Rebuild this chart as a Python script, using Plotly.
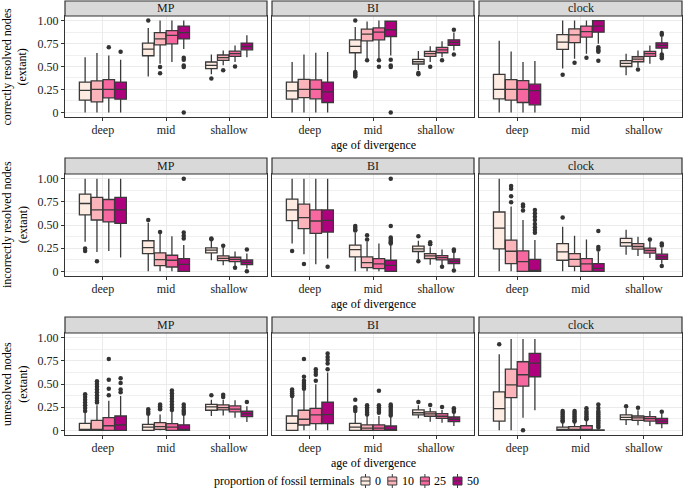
import plotly.graph_objects as go

methods = ["MP", "BI", "clock"]
ages = ["deep", "mid", "shallow"]
proportions = ["0", "10", "25", "50"]
fill_colors = ["#FEEBE2", "#FBB4B9", "#F768A1", "#AE017E"]
metric_titles = ["correctly resolved nodes<br>(extant)",
                 "incorrectly resolved nodes<br>(extant)",
                 "unresolved nodes<br>(extant)"]
legend_title = "proportion of fossil terminals"
y_tickvals = [0, 0.25, 0.5, 0.75, 1.0]
y_ticktext = ["0", "0.25", "0.50", "0.75", "1.00"]

# ---------------- correctly resolved ----------------
correct_lower = {
    "MP": [[0, 0, 0, 0], [0.39, 0.53, 0.55, 0.69], [0.415, 0.513, 0.55, 0.60]],
    "BI": [[0, 0, 0, 0], [0.46, 0.585, 0.585, 0.62], [0.458, 0.55, 0.60, 0.675]],
    "clock": [[0, 0, 0, 0], [0.477, 0.585, 0.64, 0.747], [0.404, 0.495, 0.53, 0.64]],
}
correct_q1 = {
    "MP": [[0.134, 0.115, 0.159, 0.144], [0.617, 0.736, 0.747, 0.80], [0.477, 0.567, 0.61, 0.682]],
    "BI": [[0.144, 0.162, 0.148, 0.108], [0.65, 0.78, 0.79, 0.827], [0.527, 0.61, 0.65, 0.73]],
    "clock": [[0.148, 0.134, 0.108, 0.083], [0.686, 0.76, 0.82, 0.874], [0.50, 0.552, 0.61, 0.70]],
}
correct_median = {
    "MP": [[0.24, 0.25, 0.25, 0.25], [0.69, 0.80, 0.838, 0.87], [0.513, 0.596, 0.64, 0.718]],
    "BI": [[0.235, 0.25, 0.25, 0.224], [0.72, 0.852, 0.874, 0.90], [0.552, 0.64, 0.682, 0.762]],
    "clock": [[0.25, 0.25, 0.25, 0.238], [0.765, 0.845, 0.88, 0.94], [0.534, 0.58, 0.64, 0.73]],
}
correct_q3 = {
    "MP": [[0.33, 0.343, 0.357, 0.33], [0.755, 0.87, 0.89, 0.94], [0.549, 0.625, 0.668, 0.755]],
    "BI": [[0.33, 0.36, 0.354, 0.33], [0.79, 0.906, 0.92, 0.993], [0.578, 0.664, 0.708, 0.79]],
    "clock": [[0.415, 0.357, 0.347, 0.307], [0.848, 0.91, 0.94, 1.0], [0.563, 0.606, 0.664, 0.758]],
}
correct_upper = {
    "MP": [[0.60, 0.646, 0.62, 0.574], [0.92, 1.0, 1.0, 1.0], [0.63, 0.675, 0.73, 0.84]],
    "BI": [[0.55, 0.63, 0.65, 0.657], [0.93, 0.99, 1.0, 1.0], [0.668, 0.72, 0.776, 0.87]],
    "clock": [[0.78, 0.664, 0.55, 0.56], [1.0, 1.0, 1.0, 1.0], [0.64, 0.675, 0.73, 0.82]],
}
correct_outliers = {
    "MP": [[[], [], [0.71], [0.66]],
           [[1.0], [0.495, 0.426], [], [0.596, 0.574, 0.51, 0.495, 0.0]],
           [[0.37], [0.46], [0.50], []]],
    "BI": [[[], [], [], []],
           [[1.0, 0.44, 0.43, 0.415, 0.40, 0.39], [0.567], [0.567, 0.498], [0.574, 0.51, 0.495, 0.0]],
           [[0.43, 0.415], [0.498], [0.567], [0.90, 0.63]]],
    "clock": [[[], [], [], []],
              [[0.41], [0.54], [0.596], [0.71, 0.69, 0.675, 0.66, 0.563]],
              [[], [0.466], [], [0.866, 0.845, 0.63, 0.61, 0.59]]],
}

# ---------------- incorrectly resolved ----------------
incorrect_lower = {
    "MP": [[0.32, 0.21, 0.22, 0.149], [0, 0, 0, 0], [0.12, 0.065, 0.047, 0.03]],
    "BI": [[0.30, 0.185, 0.076, 0.138], [0, 0, 0, 0], [0.12, 0.072, 0.065, 0.03]],
    "clock": [[0, 0, 0, 0], [0, 0, 0, 0], [0.18, 0.167, 0.145, 0.083]],
}
incorrect_q1 = {
    "MP": [[0.609, 0.554, 0.533, 0.518], [0.192, 0.062, 0.047, 0.0], [0.20, 0.116, 0.105, 0.072]],
    "BI": [[0.547, 0.46, 0.41, 0.424], [0.156, 0.04, 0.029, 0.0], [0.214, 0.138, 0.123, 0.083]],
    "clock": [[0.243, 0.083, 0.0, 0.0], [0.12, 0.054, 0.0, 0.0], [0.272, 0.24, 0.196, 0.13]],
}
incorrect_median = {
    "MP": [[0.732, 0.663, 0.663, 0.663], [0.257, 0.127, 0.12, 0.076], [0.228, 0.141, 0.13, 0.098]],
    "BI": [[0.663, 0.58, 0.543, 0.55], [0.235, 0.094, 0.08, 0.065], [0.243, 0.167, 0.149, 0.109]],
    "clock": [[0.467, 0.217, 0.105, 0.0], [0.21, 0.13, 0.08, 0.033], [0.31, 0.268, 0.225, 0.156]],
}
incorrect_q3 = {
    "MP": [[0.833, 0.797, 0.775, 0.797], [0.33, 0.20, 0.174, 0.138], [0.254, 0.167, 0.152, 0.123]],
    "BI": [[0.779, 0.725, 0.663, 0.663], [0.283, 0.156, 0.138, 0.12], [0.272, 0.192, 0.17, 0.134]],
    "clock": [[0.64, 0.337, 0.22, 0.13], [0.30, 0.192, 0.138, 0.083], [0.355, 0.30, 0.25, 0.185]],
}
incorrect_upper = {
    "MP": [[1.0, 1.0, 1.0, 1.0], [0.525, 0.41, 0.38, 0.283], [0.33, 0.26, 0.214, 0.192]],
    "BI": [[1.0, 1.0, 1.0, 1.0], [0.417, 0.32, 0.30, 0.283], [0.33, 0.26, 0.235, 0.21]],
    "clock": [[1.0, 0.70, 0.554, 0.337], [0.48, 0.384, 0.344, 0.214], [0.45, 0.373, 0.33, 0.25]],
}
incorrect_outliers = {
    "MP": [[[0.246, 0.22], [0.109], [], []],
           [[0.554], [0.424], [], [1.0, 0.42, 0.384, 0.355]],
           [[0.355, 0.345], [0.275], [0.04], [0.235, 0.0]]],
    "BI": [[[0.22], [0.08], [], [0.05]],
           [[0.49, 0.47, 0.45, 0.44], [0.39, 0.344], [], [1.0, 0.49, 0.366, 0.35, 0.33, 0.315, 0.30]],
           [[0.38, 0.109], [0.315, 0.293], [0.05], [0.235, 0.22, 0.01]]],
    "clock": [[[], [0.92, 0.89, 0.81, 0.746], [0.72, 0.70, 0.656],
               [0.663, 0.627, 0.59, 0.554, 0.51, 0.475, 0.446, 0.417]],
              [[0.58], [], [], [0.435, 0.264, 0.235]],
              [[], [], [0.344], [0.30, 0.28, 0.058]]],
}

# ---------------- unresolved ----------------
unresolved_lower = {
    "MP": [[0, 0, 0, 0], [0, 0, 0, 0], [0.155, 0.16, 0.137, 0.09]],
    "BI": [[0, 0, 0, 0], [0, 0, 0, 0], [0.13, 0.094, 0.083, 0.047]],
    "clock": [[0, 0, 0.137, 0.217], [0, 0, 0, 0], [0.058, 0.054, 0.047, 0.022]],
}
unresolved_q1 = {
    "MP": [[0, 0, 0, 0], [0, 0.01, 0, 0], [0.217, 0.22, 0.2, 0.148]],
    "BI": [[0, 0.058, 0.072, 0.072], [0, 0, 0, 0], [0.166, 0.152, 0.13, 0.094]],
    "clock": [[0.10, 0.354, 0.477, 0.578], [0, 0, 0, 0], [0.115, 0.108, 0.1, 0.072]],
}
unresolved_median = {
    "MP": [[0.0, 0.0, 0.05, 0.058], [0.036, 0.04, 0.036, 0.0], [0.253, 0.245, 0.23, 0.177]],
    "BI": [[0.076, 0.12, 0.166, 0.17], [0.036, 0.025, 0.025, 0.0], [0.19, 0.177, 0.152, 0.12]],
    "clock": [[0.235, 0.49, 0.6, 0.726], [0.01, 0.01, 0.01, 0.0], [0.14, 0.134, 0.126, 0.1]],
}
unresolved_q3 = {
    "MP": [[0.076, 0.108, 0.137, 0.155], [0.065, 0.083, 0.072, 0.06], [0.28, 0.274, 0.264, 0.206]],
    "BI": [[0.155, 0.217, 0.238, 0.303], [0.076, 0.06, 0.06, 0.047], [0.22, 0.2, 0.18, 0.144]],
    "clock": [[0.415, 0.66, 0.74, 0.83], [0.036, 0.04, 0.05, 0.005], [0.166, 0.155, 0.148, 0.13]],
}
unresolved_upper = {
    "MP": [[0.19, 0.27, 0.32, 0.37], [0.16, 0.17, 0.21, 0.17], [0.33, 0.33, 0.325, 0.26]],
    "BI": [[0.354, 0.426, 0.498, 0.625], [0.19, 0.155, 0.155, 0.155], [0.27, 0.24, 0.22, 0.19]],
    "clock": [[0.82, 0.985, 0.985, 0.985], [0.083, 0.09, 0.1, 0.01], [0.235, 0.217, 0.21, 0.18]],
}
unresolved_outliers = {
    "MP": [[[0.39, 0.36, 0.33, 0.30, 0.27, 0.24, 0.21],
            [0.53, 0.50, 0.47, 0.44, 0.41, 0.38, 0.35, 0.32, 0.30],
            [0.77, 0.545, 0.45, 0.38], [0.563, 0.51, 0.44, 0.41]],
           [[0.227, 0.2, 0.18], [0.28, 0.26, 0.24, 0.227],
            [0.43, 0.40, 0.37, 0.34, 0.31, 0.28, 0.25, 0.22], [0.28, 0.25, 0.22, 0.20, 0.18]],
           [[0.38], [0.383, 0.36], [], [0.307]]],
    "BI": [[[0.44, 0.42, 0.40, 0.38, 0.37], [0.77, 0.578, 0.534, 0.51, 0.49, 0.47, 0.45],
            [0.66, 0.63, 0.60, 0.534], [0.83, 0.79, 0.76, 0.72, 0.66]],
           [[0.33, 0.25, 0.23, 0.21], [0.27, 0.25, 0.23, 0.21, 0.19, 0.17],
            [0.426, 0.27, 0.25, 0.23, 0.21, 0.19], [0.28, 0.26, 0.24, 0.22, 0.20, 0.18, 0.16]],
           [[0.307], [0.274], [0.253], [0.238, 0.22, 0.2]]],
    "clock": [[[0.93], [], [0.0], []],
              [[0.21, 0.19, 0.17, 0.15, 0.13, 0.11, 0.095],
               [0.21, 0.19, 0.17, 0.15, 0.13, 0.11, 0.095],
               [0.238, 0.21, 0.19, 0.17, 0.15, 0.13, 0.12],
               [0.28, 0.24, 0.21, 0.19, 0.17, 0.15, 0.13, 0.11, 0.09, 0.07, 0.05, 0.03]],
              [[0.26], [0.245], [], [0.2]]],
}

metrics = [
    (correct_lower, correct_q1, correct_median, correct_q3, correct_upper, correct_outliers),
    (incorrect_lower, incorrect_q1, incorrect_median, incorrect_q3, incorrect_upper, incorrect_outliers),
    (unresolved_lower, unresolved_q1, unresolved_median, unresolved_q3, unresolved_upper, unresolved_outliers),
]

# ---------------- layout geometry (pixels) ----------------
W, H = 683, 490
FONT = "Liberation Serif, Times New Roman, serif"
LINE = "#3a3a3a"
col_px = [(65, 267), (272, 474), (479, 682)]
row_plot_px = [(16, 117), (174, 276), (333, 435)]
row_strip_px = [(1, 16), (158, 174), (317, 333)]
xlab_title_px = [145, 304, 463]


def px(x):
    return x / W


def py(y):
    return 1 - y / H


dodge = 0.75
n_grp = len(proportions)
bw = dodge / n_grp
offsets = [(k - (n_grp - 1) / 2) * bw for k in range(n_grp)]

fig = go.Figure()
layout = {}
annotations = []
shapes = []

for r, (lo, q1, md, q3, up, outl) in enumerate(metrics):
    for c, m in enumerate(methods):
        n = r * 3 + c + 1
        xa = "x" if n == 1 else f"x{n}"
        ya = "y" if n == 1 else f"y{n}"
        for k in range(n_grp):
            xs = [i + offsets[k] for i in range(len(ages))]
            fig.add_trace(go.Box(
                x=xs,
                lowerfence=[lo[m][i][k] for i in range(3)],
                q1=[q1[m][i][k] for i in range(3)],
                median=[md[m][i][k] for i in range(3)],
                q3=[q3[m][i][k] for i in range(3)],
                upperfence=[up[m][i][k] for i in range(3)],
                width=bw * 0.97,
                whiskerwidth=0,
                fillcolor=fill_colors[k],
                line=dict(color=LINE, width=1.3),
                boxpoints=False,
                name=proportions[k],
                showlegend=False,
                xaxis=xa, yaxis=ya,
            ))
            ox, oy = [], []
            for i in range(3):
                for v in outl[m][i][k]:
                    ox.append(i + offsets[k])
                    oy.append(v)
            if ox:
                fig.add_trace(go.Scatter(
                    x=ox, y=oy, mode="markers",
                    marker=dict(color="#333333", size=4.5),
                    showlegend=False, hoverinfo="y",
                    xaxis=xa, yaxis=ya,
                ))
        x0p, x1p = col_px[c]
        y0p, y1p = row_plot_px[r]
        key = "" if n == 1 else str(n)
        layout["xaxis" + key] = dict(
            domain=[px(x0p), px(x1p)], anchor=ya,
            range=[-0.6, 2.6], tickvals=[0, 1, 2], ticktext=ages,
            showgrid=True, gridcolor="#EBEBEB", gridwidth=1,
            zeroline=False, showline=True, mirror=True,
            linecolor="#333333", linewidth=1.2,
            ticks="outside", ticklen=3, tickcolor="#333333",
            ticklabelstandoff=-2,
            tickfont=dict(family=FONT, size=12, color="#222222"),
            fixedrange=True, automargin=False,
        )
        layout["yaxis" + key] = dict(
            domain=[py(y1p), py(y0p)], anchor=xa,
            range=[-0.05, 1.05], tickvals=y_tickvals, ticktext=y_ticktext,
            showticklabels=(c == 0), ticks="outside" if c == 0 else "",
            ticklen=3, tickcolor="#333333",
            showgrid=True, gridcolor="#EBEBEB", gridwidth=1,
            minor=dict(tickvals=[0.125, 0.375, 0.625, 0.875], showgrid=True,
                       gridcolor="#F0F0F0", gridwidth=0.6),
            zeroline=False, showline=True, mirror=True,
            linecolor="#333333", linewidth=1.2,
            tickfont=dict(family=FONT, size=12, color="#222222"),
            fixedrange=True, automargin=False,
        )
        s0, s1 = row_strip_px[r]
        shapes.append(dict(type="rect", xref="paper", yref="paper",
                           x0=px(x0p), x1=px(x1p), y0=py(s1), y1=py(s0),
                           fillcolor="#D9D9D9", line=dict(color="#333333", width=1.2)))
        annotations.append(dict(text=m, xref="paper", yref="paper",
                                x=px((x0p + x1p) / 2), y=py((s0 + s1) / 2),
                                showarrow=False, xanchor="center", yanchor="middle",
                                font=dict(family=FONT, size=12, color="#1a1a1a")))
    y0p, y1p = row_plot_px[r]
    annotations.append(dict(text=metric_titles[r], xref="paper", yref="paper",
                            x=px(15), y=py((y0p + y1p) / 2), textangle=-90,
                            showarrow=False, xanchor="center", yanchor="middle",
                            font=dict(family=FONT, size=12, color="#000000")))
    annotations.append(dict(text="age of divergence", xref="paper", yref="paper",
                            x=px((col_px[1][0] + col_px[1][1]) / 2), y=py(xlab_title_px[r]),
                            showarrow=False, xanchor="center", yanchor="middle",
                            font=dict(family=FONT, size=12, color="#000000")))

# ---------------- legend (drawn as keys + labels) ----------------
leg_y = 481
annotations.append(dict(text=legend_title, xref="paper", yref="paper",
                        x=px(357), y=py(leg_y), xanchor="right", yanchor="middle",
                        showarrow=False, font=dict(family=FONT, size=12, color="#000000")))
kx = 361
for k, lab in enumerate(proportions):
    shapes.append(dict(type="line", xref="paper", yref="paper",
                       x0=px(kx + 4.5), x1=px(kx + 4.5), y0=py(474), y1=py(488),
                       line=dict(color=LINE, width=1)))
    shapes.append(dict(type="rect", xref="paper", yref="paper",
                       x0=px(kx), x1=px(kx + 9), y0=py(485), y1=py(477),
                       fillcolor=fill_colors[k], line=dict(color=LINE, width=1)))
    shapes.append(dict(type="line", xref="paper", yref="paper",
                       x0=px(kx), x1=px(kx + 9), y0=py(481), y1=py(481),
                       line=dict(color=LINE, width=1)))
    annotations.append(dict(text=lab, xref="paper", yref="paper",
                            x=px(kx + 12), y=py(leg_y), xanchor="left", yanchor="middle",
                            showarrow=False, font=dict(family=FONT, size=12, color="#000000")))
    kx = kx + 12 + 5.8 * len(lab) + 9

fig.update_layout(
    width=W, height=H,
    margin=dict(l=0, r=0, t=0, b=0, autoexpand=False),
    paper_bgcolor="white", plot_bgcolor="white",
    boxmode="overlay", showlegend=False,
    shapes=shapes, annotations=annotations,
    **layout,
)

fig.write_html("out.html", config={"displayModeBar": False},
               post_script="document.body.style.margin='0px';")
